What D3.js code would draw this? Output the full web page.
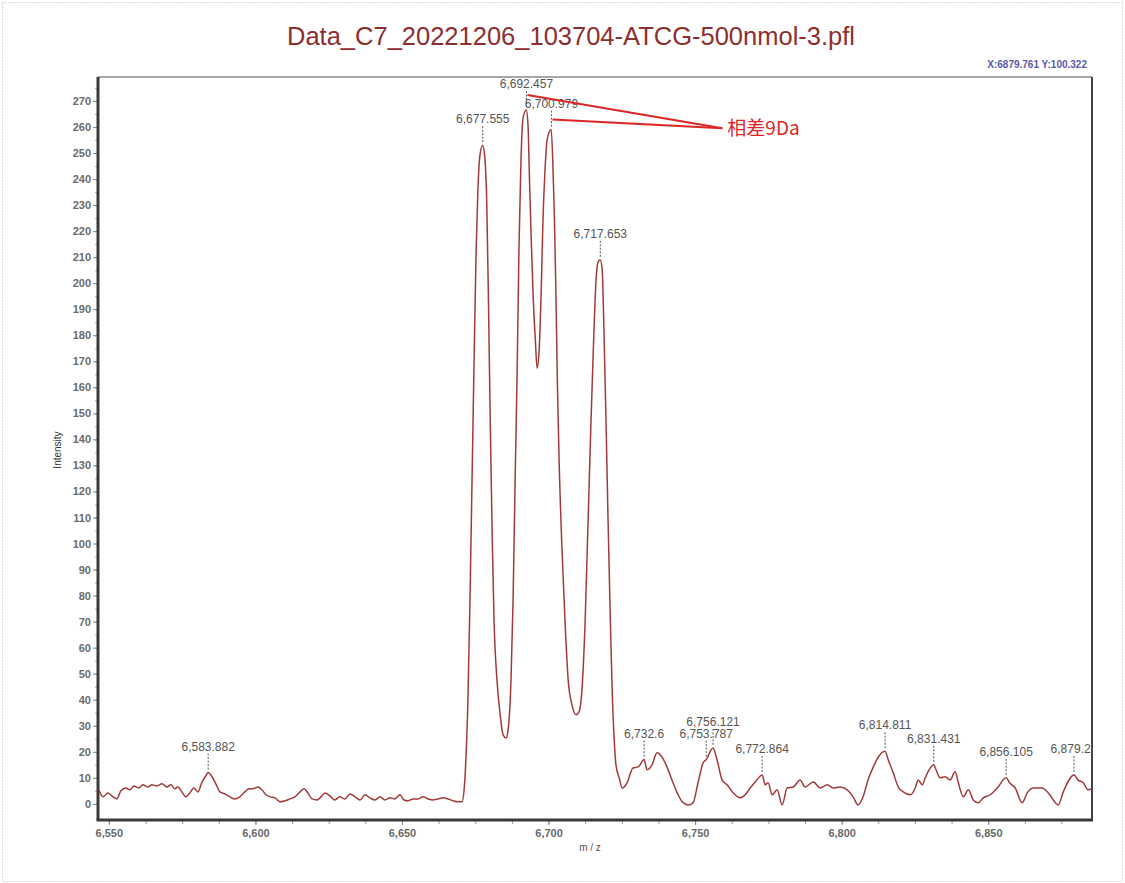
<!DOCTYPE html>
<html>
<head>
<meta charset="utf-8">
<script src="https://cdn.jsdelivr.net/npm/d3@7"></script>
<style>
  body { margin: 0; background: #fff; }
  svg { display: block; font-family: 'Liberation Sans', Arial, sans-serif; }
</style>
</head>
<body>
<div id="chart"></div>
<script>
const title = 'Data_C7_20221206_103704-ATCG-500nmol-3.pfl'
const cursorText = 'X:6879.761 Y:100.322'

// spectrum (m/z, intensity)
const mz = [
  6546.6, 6548.0, 6549.7, 6551.0, 6552.7, 6554.1, 6555.8, 6557.2, 6558.5, 6560.2,
  6561.6, 6563.3, 6564.7, 6566.4, 6568.1, 6569.8, 6571.2, 6572.5, 6573.6, 6574.9,
  6576.3, 6577.6, 6579.0, 6580.4, 6581.7, 6583.1, 6583.9, 6585.2, 6586.5, 6587.9,
  6589.6, 6591.3, 6592.7, 6594.7, 6596.4, 6597.8, 6599.1, 6600.9, 6602.2, 6603.6,
  6605.0, 6606.7, 6608.4, 6610.1, 6611.8, 6613.5, 6615.2, 6616.6, 6617.9, 6619.3,
  6621.0, 6622.4, 6623.7, 6625.4, 6627.1, 6628.8, 6630.5, 6632.3, 6634.0, 6635.7,
  6637.4, 6639.1, 6640.8, 6642.5, 6644.2, 6645.9, 6647.6, 6649.3, 6650.7, 6652.0,
  6653.8, 6655.5, 6657.2, 6658.9, 6660.6, 6662.3, 6664.0, 6665.7, 6667.4, 6669.1,
  6670.5, 6671.2, 6671.8, 6672.5, 6673.2, 6673.9, 6674.6, 6675.3, 6675.9, 6676.6,
  6677.5, 6678.2, 6678.9, 6679.5, 6680.1, 6680.8, 6681.4, 6682.4, 6683.5, 6684.5,
  6685.5, 6686.2, 6687.2, 6687.9, 6688.6, 6689.3, 6689.9, 6690.6, 6691.3, 6692.4,
  6693.0, 6693.5, 6694.1, 6694.8, 6695.5, 6696.1, 6696.8, 6697.5, 6698.1, 6698.8,
  6699.5, 6700.9, 6701.5, 6702.0, 6702.5, 6703.0, 6703.6, 6704.6, 6705.6, 6706.7,
  6708.0, 6709.4, 6710.4, 6711.4, 6712.5, 6713.5, 6714.5, 6715.5, 6716.2, 6716.9,
  6717.6, 6718.3, 6718.9, 6719.6, 6720.3, 6721.0, 6721.7, 6722.4, 6723.0, 6724.1,
  6725.1, 6726.8, 6728.8, 6730.6, 6732.6, 6733.6, 6735.3, 6737.0, 6738.7, 6740.4,
  6742.1, 6743.9, 6745.6, 6747.6, 6749.3, 6751.0, 6752.7, 6753.8, 6756.1, 6757.5,
  6759.2, 6760.9, 6763.0, 6765.4, 6767.1, 6768.8, 6770.5, 6772.9, 6773.9, 6774.9,
  6776.3, 6778.0, 6779.7, 6781.4, 6783.5, 6785.8, 6787.5, 6790.3, 6792.7, 6795.1,
  6797.1, 6799.5, 6801.9, 6803.9, 6805.6, 6807.3, 6809.0, 6810.8, 6812.5, 6814.8,
  6815.9, 6817.6, 6819.3, 6821.0, 6823.4, 6825.1, 6826.1, 6827.5, 6828.5, 6831.4,
  6832.2, 6833.6, 6835.3, 6837.0, 6838.7, 6839.8, 6841.5, 6843.2, 6844.9, 6846.6,
  6848.3, 6850.7, 6853.1, 6856.1, 6857.3, 6859.2, 6861.6, 6863.3, 6865.4, 6868.4,
  6870.5, 6873.9, 6875.6, 6879.3, 6880.6, 6882.4, 6884.1, 6885.6
]
const intensity = [
  5.4, 2.7, 4.2, 3.1, 1.9, 5.0, 6.1, 5.4, 6.9, 6.1,
  7.3, 6.5, 7.3, 6.9, 7.7, 6.5, 7.3, 5.8, 6.5, 4.6,
  2.7, 4.2, 6.1, 4.6, 8.1, 10.8, 12.0, 10.4, 7.7, 4.6,
  3.8, 2.7, 1.9, 2.7, 4.6, 5.8, 5.8, 6.5, 5.4, 3.5,
  2.7, 2.3, 0.8, 1.2, 1.9, 2.7, 4.6, 5.8, 4.2, 1.9,
  1.5, 2.7, 4.2, 3.1, 1.5, 2.7, 1.9, 3.8, 2.7, 1.5,
  3.5, 2.3, 1.5, 2.7, 1.5, 2.3, 1.9, 3.5, 1.5, 1.2,
  1.9, 1.9, 2.7, 1.9, 1.5, 1.9, 2.3, 1.9, 1.2, 0.8,
  0.8, 5.4, 16.9, 39.9, 78.3, 124.4, 170.5, 212.7, 235.8, 249.2,
  253.0, 249.0, 231.9, 193.5, 147.5, 101.4, 70.7, 47.6, 34.2, 26.5,
  25.3, 28.4, 47.6, 78.3, 124.4, 166.7, 212.7, 247.3, 263.4, 266.5,
  260.7, 239.6, 216.6, 193.5, 178.2, 167.4, 174.3, 197.4, 224.3, 243.5,
  255.0, 259.0, 245.0, 225.0, 197.4, 162.8, 132.1, 97.5, 70.7, 47.6,
  38.0, 34.2, 35.3, 43.8, 70.7, 109.1, 147.5, 182.0, 201.2, 208.1,
  209.0, 205.1, 182.0, 147.5, 109.1, 74.5, 43.8, 24.6, 15.0, 10.0,
  6.1, 8.1, 13.8, 14.2, 17.0, 13.1, 15.0, 19.6, 18.0, 14.2,
  9.2, 4.2, 0.8, -0.4, 0.4, 8.1, 15.7, 17.0, 21.5, 16.9,
  9.2, 7.3, 4.2, 2.3, 3.5, 6.1, 8.4, 11.1, 7.3, 8.1,
  3.5, 5.4, -0.4, 6.1, 6.5, 9.2, 6.5, 8.4, 6.1, 7.3,
  6.1, 6.5, 5.4, 2.7, -0.4, 2.7, 9.2, 14.2, 18.0, 20.2,
  16.9, 11.9, 6.5, 4.6, 3.5, 6.1, 9.2, 7.3, 10.0, 15.0,
  13.1, 10.0, 10.4, 9.2, 12.3, 8.1, 2.7, 5.4, 1.5, 0.4,
  2.3, 3.5, 6.1, 10.0, 8.1, 6.1, 0.4, 4.2, 6.1, 6.1,
  4.2, -0.4, 4.6, 11.1, 9.2, 8.1, 5.4, 6.1
]

// labelled peaks
const peakText = ['6,583.882', '6,677.555', '6,692.457', '6,700.979', '6,717.653', '6,732.6',
  '6,756.121', '6,753.787', '6,772.864', '6,814.811', '6,831.431', '6,856.105', '6,879.25']
const peakMz = [6583.882, 6677.555, 6692.457, 6700.979, 6717.653, 6732.6,
  6756.121, 6753.787, 6772.864, 6814.811, 6831.431, 6856.105, 6879.25]
const peakIntensity = [12.0, 253.0, 266.5, 259.0, 209.0, 17.0, 21.5, 17.0, 11.1, 20.2, 15.0, 10.0, 11.1]

const xTicks = [6550, 6600, 6650, 6700, 6750, 6800, 6850]
const yTicks = d3.range(0, 271, 10)

const note = { text: '相差9Da', from: [6692.457, 6700.979], mz: 6759.3, intensity: 259.5 }

const width = 1125
const height = 883
const margin = { top: 77, right: 33, bottom: 63, left: 98 }

const svg = d3.select('#chart')
  .append('svg')
  .attr('width', width)
  .attr('height', height)

// dotted outer frame
svg.append('rect')
  .attr('x', 2.5).attr('y', 2.5)
  .attr('width', width - 5).attr('height', height - 4)
  .attr('fill', 'none')
  .attr('stroke', '#bbb')
  .attr('stroke-dasharray', '1,2')

const x = d3.scaleLinear()
  .domain([6546.3, 6885.4])
  .range([margin.left, width - margin.right])

const y = d3.scaleLinear()
  .domain([-6.2, 279.2])
  .range([height - margin.bottom, margin.top])

svg.append('defs').append('clipPath').attr('id', 'plot')
  .append('rect')
  .attr('x', margin.left).attr('y', margin.top - 30)
  .attr('width', width - margin.left - margin.right)
  .attr('height', height - margin.top - margin.bottom + 30)

// title
svg.append('text')
  .attr('x', 571).attr('y', 45)
  .attr('text-anchor', 'middle')
  .attr('font-size', 25.5)
  .attr('fill', '#8e2e2e')
  .text(title)

svg.append('text')
  .attr('x', 1087).attr('y', 68)
  .attr('text-anchor', 'end')
  .attr('font-size', 10)
  .attr('font-weight', 'bold')
  .attr('fill', '#5a5aa8')
  .text(cursorText)

// axes
const tickFont = g => g.selectAll('text')
  .attr('font-size', 11)
  .attr('font-weight', 'bold')
  .attr('fill', '#6a6a6a')
  .attr('font-family', "'Liberation Sans', Arial, sans-serif")

svg.append('g')
  .attr('transform', `translate(${margin.left - 1},0)`)
  .call(d3.axisLeft(y).tickValues(d3.range(0, 276, 5)).tickSize(2).tickFormat(''))
  .call(g => g.select('.domain').remove())
  .call(g => g.selectAll('line').attr('stroke', '#aaa'))

svg.append('g')
  .attr('transform', `translate(${margin.left - 1},0)`)
  .call(d3.axisLeft(y).tickValues(yTicks).tickSize(4).tickPadding(2))
  .call(g => g.select('.domain').remove())
  .call(g => g.selectAll('line').attr('stroke', '#888'))
  .call(tickFont)

svg.append('g')
  .attr('transform', `translate(0,${height - margin.bottom + 1})`)
  .call(d3.axisBottom(x).tickValues(d3.range(6550, 6886, 12.5)).tickSize(3).tickFormat(''))
  .call(g => g.select('.domain').remove())
  .call(g => g.selectAll('line').attr('stroke', '#999'))

svg.append('g')
  .attr('transform', `translate(0,${height - margin.bottom + 1})`)
  .call(d3.axisBottom(x).tickValues(xTicks).tickSize(4).tickPadding(4).tickFormat(d3.format(',')))
  .call(g => g.select('.domain').remove())
  .call(g => g.selectAll('line').attr('stroke', '#888'))
  .call(tickFont)

// frame
svg.append('line')
  .attr('x1', margin.left).attr('x2', width - margin.right)
  .attr('y1', margin.top).attr('y2', margin.top)
  .attr('stroke', '#8a8a8a').attr('stroke-width', 1.5)
svg.append('line')
  .attr('x1', width - margin.right).attr('x2', width - margin.right)
  .attr('y1', margin.top).attr('y2', height - margin.bottom)
  .attr('stroke', '#444').attr('stroke-width', 2)
svg.append('line')
  .attr('x1', margin.left).attr('x2', margin.left)
  .attr('y1', margin.top).attr('y2', height - margin.bottom)
  .attr('stroke', '#3a3a3a').attr('stroke-width', 3)
svg.append('line')
  .attr('x1', margin.left - 1.5).attr('x2', width - margin.right + 1)
  .attr('y1', height - margin.bottom).attr('y2', height - margin.bottom)
  .attr('stroke', '#3a3a3a').attr('stroke-width', 3)

svg.append('text')
  .attr('transform', `translate(61,450) rotate(-90)`)
  .attr('text-anchor', 'middle')
  .attr('font-size', 10)
  .attr('fill', '#333')
  .text('Intensity')

svg.append('text')
  .attr('x', 590).attr('y', 851)
  .attr('text-anchor', 'middle')
  .attr('font-size', 10)
  .attr('fill', '#555')
  .text('m / z')

// spectrum
const plot = svg.append('g').attr('clip-path', 'url(#plot)')

plot.append('path')
  .datum(mz.map((m, i) => [m, intensity[i]]))
  .attr('fill', 'none')
  .attr('stroke', '#a23a3a')
  .attr('stroke-width', 1.5)
  .attr('stroke-linejoin', 'round')
  .attr('d', d3.line().curve(d3.curveMonotoneX).x(d => x(d[0])).y(d => y(d[1])))

// peak labels
const peaks = peakMz.map((m, i) => ({ mz: m, value: peakIntensity[i], text: peakText[i] }))

const label = plot.selectAll('g.peak')
  .data(peaks)
  .join('g')
  .attr('class', 'peak')
  .attr('transform', d => `translate(${x(d.mz)},${y(d.value)})`)

label.append('line')
  .attr('y1', -3).attr('y2', -19)
  .attr('stroke', '#555')
  .attr('stroke-dasharray', '2,1.5')

label.append('text')
  .attr('y', -22)
  .attr('text-anchor', 'middle')
  .attr('font-size', 12)
  .attr('fill', '#555')
  .text(d => d.text)

// annotation
const noteColor = '#dc2626'
const noteX = x(note.mz)
const noteY = y(note.intensity)
note.from.forEach((m, i) => {
  const p = peaks.find(d => d.mz === m)
  svg.append('line')
    .attr('x1', x(m) + 1)
    .attr('y1', y(p.value) - (i === 0 ? 15 : 10))
    .attr('x2', noteX).attr('y2', noteY)
    .attr('stroke', noteColor)
    .attr('stroke-width', 2)
})

svg.append('text')
  .attr('x', noteX + 5).attr('y', noteY + 7)
  .attr('font-size', 19)
  .attr('fill', noteColor)
  .attr('font-family', "'Noto Sans CJK SC', 'Liberation Sans', sans-serif")
  .text(note.text)
</script>
</body>
</html>
